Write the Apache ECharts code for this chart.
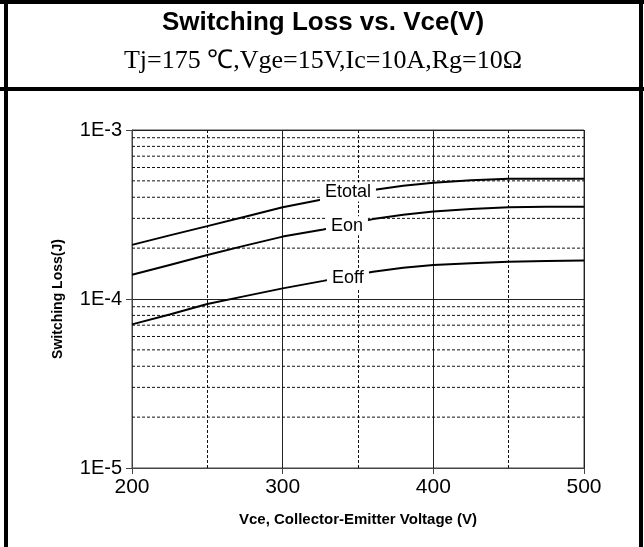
<!DOCTYPE html>
<html>
<head>
<meta charset="utf-8">
<script src="https://cdn.jsdelivr.net/npm/echarts@6/dist/echarts.min.js"></script>
<style>
  html, body { margin: 0; padding: 0; background: #fff; }
  #main { width: 644px; height: 547px; }
</style>
</head>
<body>
<div id="main"></div>
<script>
// Vce (V)
var vce = [200, 225, 250, 275, 300, 327, 342, 360, 380, 400, 425, 450, 475, 500];
// switching loss (J)
var eTotal = [2.09e-4, 2.38e-4, 2.70e-4, 3.07e-4, 3.49e-4, 3.89e-4, 4.13e-4, 4.42e-4, 4.68e-4, 4.88e-4, 5.05e-4, 5.15e-4, 5.15e-4, 5.15e-4];
var eOn    = [1.39e-4, 1.59e-4, 1.82e-4, 2.07e-4, 2.34e-4, 2.58e-4, 2.75e-4, 2.97e-4, 3.15e-4, 3.29e-4, 3.41e-4, 3.49e-4, 3.52e-4, 3.52e-4];
var eOff   = [7.08e-5, 8.10e-5, 9.34e-5, 1.04e-4, 1.156e-4, 1.28e-4, 1.36e-4, 1.45e-4, 1.53e-4, 1.59e-4, 1.63e-4, 1.66e-4, 1.68e-4, 1.69e-4];
var curveNames = ['Etotal', 'Eon', 'Eoff'];
var labelAt = 342; // Vce where the curve names sit
// minor log grid lines
var minorY = [2e-5, 3e-5, 4e-5, 5e-5, 6e-5, 7e-5, 8e-5, 9e-5, 2e-4, 3e-4, 4e-4, 5e-4, 6e-4, 7e-4, 8e-4, 9e-4];
var xRange = [200, 500];

var SANS = '"Liberation Sans", Arial, sans-serif';
var SERIF = '"Liberation Serif", "Times New Roman", serif';

function curve(name, vals, boxW, dx, dy) {
  var k = vce.indexOf(labelAt);
  return {
    name: name, type: 'line', symbol: 'none', z: 3,
    data: vce.map(function (x, i) { return [x, vals[i]]; }),
    lineStyle: { color: '#000', width: 2 },
    markPoint: {
      silent: true, animation: false,
      data: [{
        coord: [labelAt, vals[k]],
        symbol: 'rect', symbolSize: [boxW, 19], symbolOffset: [dx, dy],
        itemStyle: { color: '#fff' },
        label: {
          show: true, position: 'inside', formatter: name,
          fontFamily: SANS, fontSize: 18, color: '#000'
        }
      }]
    }
  };
}

// dashed minor grid, one flat line per value
var minorSeries = minorY.map(function (v) {
  return {
    type: 'line', symbol: 'none', z: 1, silent: true,
    data: xRange.map(function (x) { return [x, v]; }),
    lineStyle: { color: '#111', type: [3, 2], width: 1 }
  };
});

var chart = echarts.init(document.getElementById('main'));
chart.setOption({
  animation: false,
  backgroundColor: '#fff',
  graphic: [
    { type: 'rect', shape: { x: 0, y: 0, width: 644, height: 4 }, style: { fill: '#000' } },
    { type: 'rect', shape: { x: 0, y: 87, width: 644, height: 4 }, style: { fill: '#000' } },
    { type: 'rect', shape: { x: 4, y: 0, width: 4, height: 547 }, style: { fill: '#000' } },
    { type: 'rect', shape: { x: 639, y: 0, width: 4, height: 547 }, style: { fill: '#000' } },
    { type: 'text', x: 323, y: 23, style: { text: 'Switching Loss vs. Vce(V)', font: 'bold 26px ' + SANS, fill: '#000', textAlign: 'center', textVerticalAlign: 'middle' } },
    { type: 'text', x: 323, y: 61, style: { text: 'Tj=175 ℃,Vge=15V,Ic=10A,Rg=10Ω', font: '26px ' + SERIF, fill: '#000', textAlign: 'center', textVerticalAlign: 'middle' } }
  ],
  grid: { left: 132, top: 130, width: 452, height: 338, show: true, borderColor: '#444', borderWidth: 1 },
  xAxis: {
    type: 'value', min: 200, max: 500, interval: 100,
    name: 'Vce, Collector-Emitter Voltage (V)', nameLocation: 'middle', nameGap: 44,
    nameTextStyle: { fontFamily: SANS, fontWeight: 'bold', fontSize: 15, color: '#000' },
    axisLine: { show: true, lineStyle: { color: '#444' } },
    axisTick: { show: true, length: 6, lineStyle: { color: '#444' } },
    axisLabel: { fontFamily: SANS, fontSize: 21, color: '#000', margin: 9 },
    splitLine: { show: true, lineStyle: { color: '#222', width: 1 } },
    minorTick: { show: false, splitNumber: 2 },
    minorSplitLine: { show: true, lineStyle: { color: '#111', type: [3, 2], width: 1 } }
  },
  yAxis: {
    type: 'log', logBase: 10, min: 1e-5, max: 1e-3,
    name: 'Switching Loss(J)', nameLocation: 'middle', nameGap: 67,
    nameTextStyle: { fontFamily: SANS, fontWeight: 'bold', fontSize: 14, color: '#000' },
    axisLine: { show: true, lineStyle: { color: '#444' } },
    axisTick: { show: true, length: 6, lineStyle: { color: '#444' } },
    axisLabel: {
      fontFamily: SANS, fontSize: 20, color: '#000', margin: 10,
      formatter: function (v) { return '1E' + Math.round(Math.log10(v)); }
    },
    splitLine: { show: true, lineStyle: { color: '#222', width: 1 } },
    minorSplitLine: { show: false }
  },
  series: minorSeries.concat([
    curve(curveNames[0], eTotal, 56, 2, -3),
    curve(curveNames[1], eOn, 42, 1, 1),
    curve(curveNames[2], eOff, 42, 2, 2)
  ])
});
</script>
</body>
</html>
